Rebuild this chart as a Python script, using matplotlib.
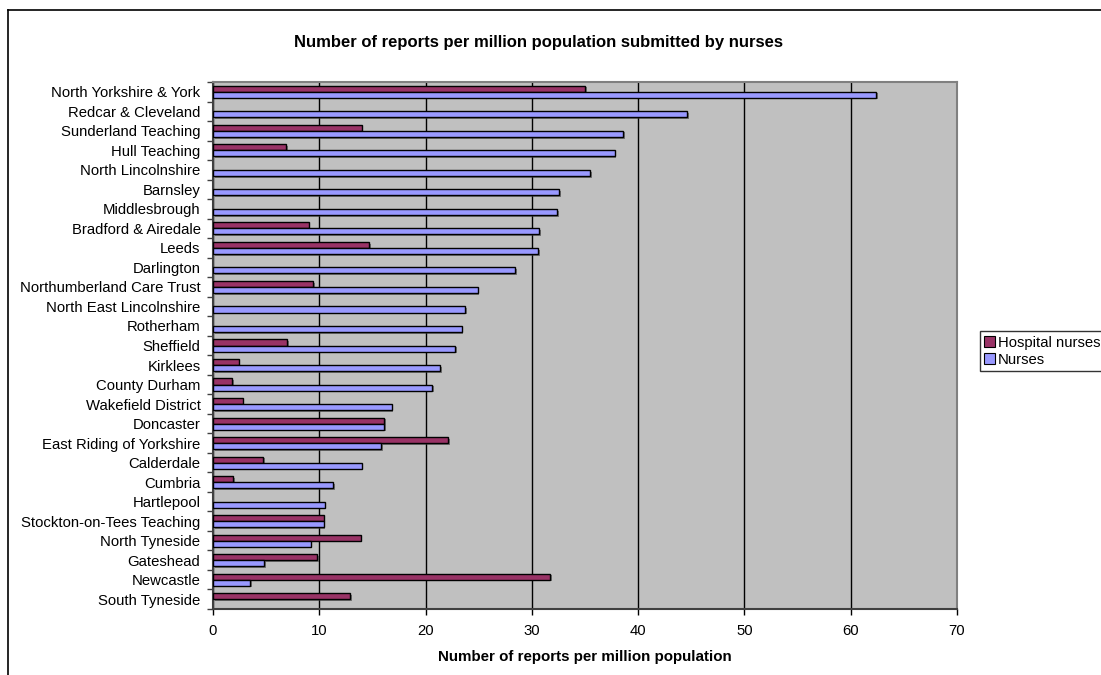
import numpy as np
import matplotlib
matplotlib.use("Agg")
import matplotlib.pyplot as plt
import matplotlib.patheffects as pe
from matplotlib.lines import Line2D
from matplotlib.patches import Patch

plt.rcParams['font.family'] = ['Liberation Sans', 'DejaVu Sans']

# Primary care trusts, listed top to bottom
trusts = ["North Yorkshire & York", "Redcar & Cleveland", "Sunderland Teaching",
          "Hull Teaching", "North Lincolnshire", "Barnsley", "Middlesbrough",
          "Bradford & Airedale", "Leeds", "Darlington", "Northumberland Care Trust",
          "North East Lincolnshire", "Rotherham", "Sheffield", "Kirklees",
          "County Durham", "Wakefield District", "Doncaster",
          "East Riding of Yorkshire", "Calderdale", "Cumbria", "Hartlepool",
          "Stockton-on-Tees Teaching", "North Tyneside", "Gateshead", "Newcastle",
          "South Tyneside"]

hospital_nurses = [35.0, 0, 14.0, 6.9, 0, 0, 0, 9.0, 14.7, 0, 9.4, 0, 0, 7.0,
                   2.4, 1.8, 2.8, 16.1, 22.1, 4.7, 1.9, 0, 10.4, 13.9, 9.8,
                   31.7, 12.9]
nurses = [62.4, 44.6, 38.6, 37.8, 35.5, 32.6, 32.4, 30.7, 30.6, 28.4, 24.9,
          23.7, 23.4, 22.8, 21.4, 20.6, 16.8, 16.1, 15.8, 14.0, 11.3, 10.5,
          10.4, 9.2, 4.8, 3.5, 0]

series_names = ["Hospital nurses", "Nurses"]
series_colors = ["#993366", "#9999FF"]
xticks = [0, 10, 20, 30, 40, 50, 60, 70]

W, H = 1101, 675
fig = plt.figure(figsize=(W / 100, H / 100), dpi=100)
ax = fig.add_axes([213 / W, 1 - 609 / H, (957 - 213) / W, (609 - 82) / H])
ax.set_facecolor("#C0C0C0")

y = np.arange(len(trusts))
bh = 0.31
shadow = [pe.SimplePatchShadow(offset=(1.2, -1.2), shadow_rgbFace="#404040", alpha=0.6),
          pe.Normal()]
for vals, off, col in [(hospital_nurses, -bh / 2, series_colors[0]),
                       (nurses, bh / 2, series_colors[1])]:
    v = np.array(vals, dtype=float)
    keep = v > 0
    bars = ax.barh(y[keep] + off, v[keep], height=bh, color=col,
                   edgecolor="black", linewidth=1.0, zorder=3)
    for b in bars:
        b.set_path_effects(shadow)

ax.set_xlim(0, 70)
ax.set_ylim(len(trusts) - 0.5, -0.5)
ax.set_xticks(xticks)
ax.xaxis.grid(True, color="black", linewidth=1.0, zorder=1)
ax.set_axisbelow(True)

ax.set_yticks(y)
ax.set_yticklabels(trusts, fontsize=10.7)
ax.set_yticks(np.arange(len(trusts) + 1) - 0.5, minor=True)
ax.tick_params(axis="y", which="major", length=0, pad=9)
ax.tick_params(axis="y", which="minor", length=4, width=1, color="#404040", direction="out")
ax.tick_params(axis="x", length=4, width=1, direction="out", labelsize=10.7, pad=7)

for s in ["top", "right"]:
    ax.spines[s].set_color("#808080")
    ax.spines[s].set_linewidth(1.5)
for s in ["left", "bottom"]:
    ax.spines[s].set_color("#404040")
    ax.spines[s].set_linewidth(1.5)

fig.text(538 / W, 1 - 42 / H, "Number of reports per million population submitted by nurses",
         ha="center", va="center", fontsize=12, fontweight="bold")
fig.text(585 / W, 1 - 657 / H, "Number of reports per million population",
         ha="center", va="center", fontsize=10.9, fontweight="bold")

handles = [Patch(facecolor=c, edgecolor="black", linewidth=0.8) for c in series_colors]
leg = fig.legend(handles, series_names, loc="lower left",
                 bbox_to_anchor=(980 / W, 1 - 371 / H), fontsize=10.7,
                 frameon=True, fancybox=False, handlelength=0.7, handleheight=0.7,
                 handletextpad=0.2, borderpad=0.3, labelspacing=0.2,
                 borderaxespad=0)
leg.get_frame().set_edgecolor("black")
leg.get_frame().set_linewidth(1.0)

# outer chart frame
fig.add_artist(Line2D([8 / W, 8 / W], [0, 1 - 10 / H], transform=fig.transFigure,
                      color="black", linewidth=1.2))
fig.add_artist(Line2D([8 / W, 1], [1 - 10 / H, 1 - 10 / H], transform=fig.transFigure,
                      color="black", linewidth=1.2))

fig.savefig("out.png", dpi=100)
